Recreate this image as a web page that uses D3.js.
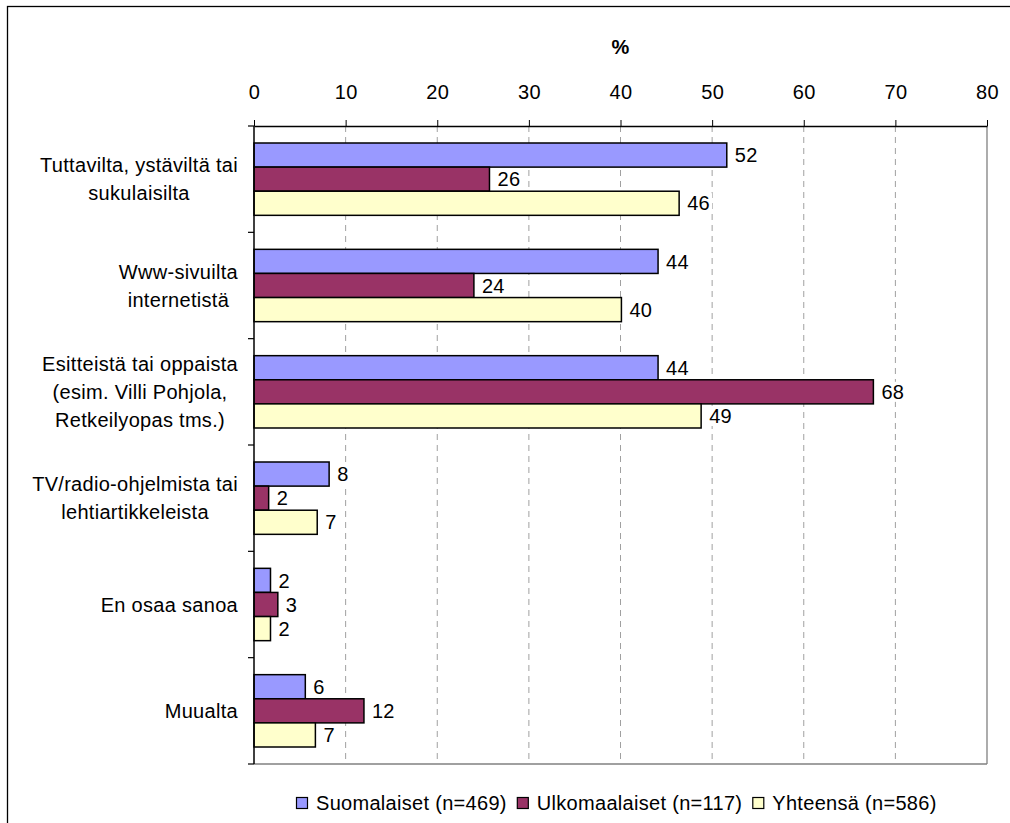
<!DOCTYPE html>
<html><head><meta charset="utf-8">
<script src="https://cdn.jsdelivr.net/npm/d3@7"></script>
<style>body{margin:0;background:#fff}svg{display:block;font-family:"Liberation Sans",Arial,sans-serif}svg text{letter-spacing:0.3px}</style>
</head><body>
<svg id="c" width="1010" height="823"></svg>
<script>
const categories = [
  "Tuttavilta, ystäviltä tai\nsukulaisilta",
  "Www-sivuilta\ninternetistä",
  "Esitteistä tai oppaista\n(esim. Villi Pohjola,\nRetkeilyopas tms.)",
  "TV/radio-ohjelmista tai\nlehtiartikkeleista",
  "En osaa sanoa",
  "Muualta"
];
const seriesNames = ["Suomalaiset (n=469)", "Ulkomaalaiset (n=117)", "Yhteensä (n=586)"];
const suomalaiset = [51.6, 44.1, 44.1, 8.2, 1.8, 5.6];
const ulkomaalaiset = [25.7, 24.0, 67.6, 1.6, 2.6, 12.0];
const yhteensa = [46.4, 40.1, 48.8, 6.9, 1.8, 6.7];
const xTicks = [0, 10, 20, 30, 40, 50, 60, 70, 80];
const colors = ["#9999ff", "#993366", "#ffffcc"];
const axisTitle = "%";

const seriesVals = [suomalaiset, ulkomaalaiset, yhteensa];
const svg = d3.select("#c");
const FS = 20;
const FF = "Liberation Sans, Arial, sans-serif";

// outer frame
svg.append("rect").attr("x", 7.5).attr("y", 6.5).attr("width", 1020).attr("height", 840)
  .attr("fill", "none").attr("stroke", "#000").attr("stroke-width", 1.3);

const x = d3.scaleLinear().domain([0, 80]).range([254, 987]);
const y = d3.scaleBand().domain(categories).range([126, 764]).padding(0);
const bw = y.bandwidth();
const ys = d3.scaleBand().domain(seriesNames).range([17, bw - 17]).padding(0);

// grid
svg.append("g").selectAll("line").data(xTicks.filter(t => t > 0 && t < 80)).join("line")
  .attr("x1", d => x(d)).attr("x2", d => x(d)).attr("y1", 126).attr("y2", 764)
  .attr("stroke", "#a0a0a0").attr("stroke-dasharray", "6,5");

// plot border right & bottom
svg.append("line").attr("x1", x(80)).attr("x2", x(80)).attr("y1", 126).attr("y2", 764).attr("stroke", "#808080").attr("stroke-width", 1.3);
svg.append("line").attr("x1", x(0)).attr("x2", x(80)).attr("y1", 764).attr("y2", 764).attr("stroke", "#808080").attr("stroke-width", 1.3);

// top axis
const ax = svg.append("g").attr("transform", "translate(0,126)")
  .call(d3.axisTop(x).tickValues(xTicks).tickSizeInner(6).tickSizeOuter(0).tickPadding(21));
ax.select(".domain").attr("stroke", "#000").attr("stroke-width", 1.5);
ax.selectAll(".tick line").attr("stroke", "#000");
ax.selectAll("text").attr("font-size", FS).attr("font-family", FF).attr("fill", "#000");

svg.append("text").attr("x", x(40)).attr("y", 54).attr("text-anchor", "middle")
  .attr("font-size", FS).attr("font-weight", "bold").text(axisTitle);

// bars
const groups = svg.append("g").selectAll("g").data(categories).join("g")
  .attr("transform", d => `translate(0,${y(d)})`);
seriesNames.forEach((s, si) => {
  groups.append("rect")
    .attr("x", x(0)).attr("y", ys(s))
    .attr("width", (d, i) => x(seriesVals[si][i]) - x(0))
    .attr("height", ys.bandwidth())
    .attr("fill", colors[si]).attr("stroke", "#000").attr("stroke-width", 1.5);
  const lab = groups.append("g");
  lab.each(function(d, i) {
    const g = d3.select(this);
    const v = seriesVals[si][i];
    const t = g.append("text").attr("x", x(v) + 8).attr("y", ys(s) + ys.bandwidth() / 2)
      .attr("dy", "0.36em").attr("font-size", FS).text(d3.format(".0f")(v));
    const w = t.node().getComputedTextLength();
    g.insert("rect", "text").attr("x", x(v) + 2).attr("y", ys(s) + 2)
      .attr("width", w + 8).attr("height", ys.bandwidth() - 4).attr("fill", "#fff");
  });
});

// left axis
svg.append("line").attr("x1", x(0)).attr("x2", x(0)).attr("y1", 126).attr("y2", 764).attr("stroke", "#000").attr("stroke-width", 1.5);
svg.append("g").selectAll("line").data(categories.map(c => y(c)).concat([764])).join("line")
  .attr("x1", x(0) - 6).attr("x2", x(0)).attr("y1", d => d).attr("y2", d => d).attr("stroke", "#000").attr("stroke-width", 1.2);

// category labels
categories.forEach(c => {
  const lines = c.split("\n");
  const g = svg.append("g");
  const lh = 28;
  const cy = y(c) + bw / 2;
  const ts = lines.map((l, k) => g.append("text").attr("y", cy + (k - (lines.length - 1) / 2) * lh)
    .attr("dy", "0.36em").attr("font-size", FS).attr("text-anchor", "middle").text(l));
  const maxW = d3.max(ts, t => t.node().getComputedTextLength());
  ts.forEach(t => t.attr("x", 238 - maxW / 2));
});

// legend
let lx = 296;
seriesNames.forEach((s, si) => {
  svg.append("rect").attr("x", lx + 0.5).attr("y", 797.5).attr("width", 11).attr("height", 11)
    .attr("fill", colors[si]).attr("stroke", "#000").attr("stroke-width", 1.2);
  const t = svg.append("text").attr("x", lx + 20).attr("y", 803).attr("dy", "0.36em")
    .attr("font-size", FS).text(s);
  lx += 20 + t.node().getComputedTextLength() + 10;
});
</script>
</body></html>
